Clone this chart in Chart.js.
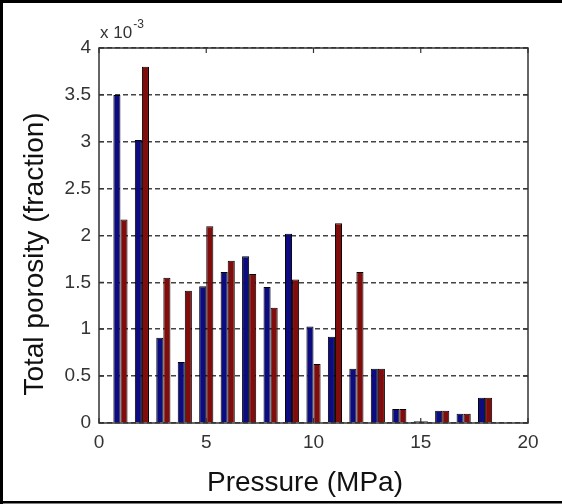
<!DOCTYPE html>
<html>
<head>
<meta charset="utf-8">
<script src="https://cdn.jsdelivr.net/npm/chart.js@4"></script>
<style>
  html, body { margin: 0; padding: 0; background: #fff; }
  #wrap { width: 562px; height: 504px; }
</style>
</head>
<body>
<div id="wrap"><canvas id="c" width="562" height="504"></canvas></div>
<script>
// Data (porosity values in units of 1e-3)
const pressures = [1, 2, 3, 4, 5, 6, 7, 8, 9, 10, 11, 12, 13, 14, 15, 16, 17, 18];
const seriesBlue = [3.50, 3.02, 0.91, 0.65, 1.46, 1.61, 1.78, 1.45, 2.02, 1.03, 0.92, 0.58, 0.58, 0.15, 0.02, 0.13, 0.10, 0.27];
const seriesRed  = [2.17, 3.80, 1.55, 1.41, 2.10, 1.73, 1.59, 1.23, 1.53, 0.63, 2.13, 1.61, 0.58, 0.15, 0.02, 0.13, 0.10, 0.27];
const xTicks = [0, 5, 10, 15, 20];
const yTicks = [0, 0.5, 1, 1.5, 2, 2.5, 3, 3.5, 4];
const xTitle = 'Pressure (MPa)';
const yTitle = 'Total porosity (fraction)';
const expBase = 'x 10';
const expPow = '-3';

const FONT = '"Liberation Sans", Arial, Helvetica, sans-serif';

const deco = {
  id: 'deco',
  beforeDraw(chart) {
    const ctx = chart.ctx;
    ctx.save();
    ctx.fillStyle = '#fff';
    ctx.fillRect(0, 0, chart.width, chart.height);
    ctx.restore();
  },
  afterDraw(chart) {
    const ctx = chart.ctx;
    const a = chart.chartArea;
    const xs = chart.scales.x, ys = chart.scales.y;
    ctx.save();
    // axes box
    ctx.strokeStyle = '#333';
    ctx.lineWidth = 1.5;
    ctx.strokeRect(a.left, a.top, a.right - a.left, a.bottom - a.top);
    // inward tick marks
    ctx.lineWidth = 1.2;
    ctx.beginPath();
    yTicks.forEach(v => {
      const py = ys.getPixelForValue(v);
      ctx.moveTo(a.left, py); ctx.lineTo(a.left + 5, py);
      ctx.moveTo(a.right, py); ctx.lineTo(a.right - 5, py);
    });
    xTicks.forEach(v => {
      const px = xs.getPixelForValue(v);
      ctx.moveTo(px, a.bottom); ctx.lineTo(px, a.bottom - 5);
      ctx.moveTo(px, a.top); ctx.lineTo(px, a.top + 5);
    });
    ctx.stroke();
    // exponent label
    ctx.fillStyle = '#333';
    ctx.textBaseline = 'alphabetic';
    ctx.textAlign = 'left';
    ctx.font = '17px ' + FONT;
    ctx.fillText(expBase, 100, 38);
    const w = ctx.measureText(expBase).width;
    ctx.font = '12px ' + FONT;
    ctx.fillText(expPow, 100 + w + 1, 28);
    // x title
    ctx.fillStyle = '#111';
    ctx.font = '28px ' + FONT;
    ctx.textAlign = 'center';
    ctx.fillText(xTitle, 305, 491);
    // y title
    ctx.save();
    ctx.translate(43, 254);
    ctx.rotate(-Math.PI / 2);
    ctx.fillText(yTitle, 0, 0);
    ctx.restore();
    // outer frame
    ctx.fillStyle = '#000';
    ctx.fillRect(0, 0, chart.width, 3);
    ctx.fillRect(0, 0, 3, chart.height);
    ctx.fillRect(0, 501, chart.width, 2.5);
    ctx.restore();
  }
};

new Chart(document.getElementById('c'), {
  type: 'bar',
  data: {
    datasets: [
      {
        data: pressures.map((p, i) => ({ x: p, y: seriesBlue[i] })),
        backgroundColor: '#0c0c80',
        borderColor: '#000',
        borderWidth: 1,
        categoryPercentage: 0.66,
        barPercentage: 1.0
      },
      {
        data: pressures.map((p, i) => ({ x: p, y: seriesRed[i] })),
        backgroundColor: '#800c0c',
        borderColor: '#000',
        borderWidth: 1,
        categoryPercentage: 0.66,
        barPercentage: 1.0
      }
    ]
  },
  options: {
    responsive: false,
    animation: false,
    layout: { padding: { left: 0, right: 34, top: 48, bottom: 0 } },
    plugins: { legend: { display: false }, tooltip: { enabled: false } },
    scales: {
      x: {
        type: 'linear',
        min: 0, max: 20,
        offset: false,
        afterBuildTicks(s) { s.ticks = xTicks.map(v => ({ value: v })); },
        afterFit(s) { s.height = 81; },
        ticks: { color: '#333', font: { family: FONT, size: 19 }, padding: 8, maxRotation: 0,
                 callback: v => String(+v) },
        grid: { display: false, drawTicks: false },
        border: { display: false }
      },
      y: {
        min: 0, max: 4,
        afterBuildTicks(s) { s.ticks = yTicks.map(v => ({ value: v })); },
        afterFit(s) { s.width = 99; },
        ticks: { color: '#333', font: { family: FONT, size: 19 }, padding: 8,
                 callback: v => String(+v) },
        grid: { color: '#444', lineWidth: 1.6, drawTicks: false },
        border: { display: false, dash: [5, 3] }
      }
    }
  },
  plugins: [deco]
});
</script>
</body>
</html>
